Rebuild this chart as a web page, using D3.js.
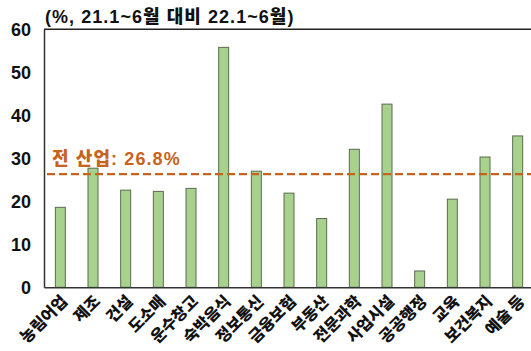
<!DOCTYPE html>
<html><head><meta charset="utf-8">
<script src="https://cdn.jsdelivr.net/npm/d3@7"></script>
<style>
body{margin:0;background:#fff;}
svg{display:block;font-family:"Liberation Sans","Noto Sans CJK KR",sans-serif;font-weight:bold;}
</style></head>
<body><svg id="c" width="531" height="351"></svg>
<script>
const categories = ["농림어업","제조","건설","도소매","운수창고","숙박음식","정보통신","금융보험","부동산","전문과학","사업시설","공공행정","교육","보건복지","예술 등"];
const values = [18.6,27.7,22.6,22.3,23.0,55.8,27.0,21.9,16.0,32.1,42.6,3.8,20.5,30.3,35.2];
const yTicks = [0,10,20,30,40,50,60];
const allIndustryLine = 26.3;
const allIndustryLabel = "전 산업: 26.8%";
const title = "(%, 21.1~6월 대비 22.1~6월)";

const svg = d3.select("#c");
const L = 44, R = 534, T = 29.3, B = 287.3;
const x = d3.scaleBand().domain(categories).range([L, R]);
const y = d3.scaleLinear().domain([0, 60]).range([B, T]);

svg.append("text").attr("x", 45).attr("y", 23).attr("font-size", 18)
  .attr("font-family", "Liberation Sans, Noto Sans CJK KR").attr("font-weight", 900)
  .attr("letter-spacing", 1.05).attr("fill", "#111").text(title);

svg.append("line").attr("x1", L).attr("x2", 531).attr("y1", y(60)).attr("y2", y(60)).attr("stroke", "#222").attr("stroke-width", 1.5);

svg.selectAll("rect.bar").data(values).join("rect")
  .attr("class", "bar")
  .attr("x", (d, i) => x(categories[i]) + x.bandwidth() / 2 - 5)
  .attr("width", 10)
  .attr("y", d => y(d))
  .attr("height", d => y(0) - y(d))
  .attr("fill", "#a9d18e")
  .attr("stroke", "#5b6b50")
  .attr("stroke-width", 1);

const yAxis = d3.axisLeft(y).tickValues(yTicks).tickSize(0).tickPadding(13);
const gy = svg.append("g").attr("transform", `translate(${L},0)`).call(yAxis);
gy.select(".domain").attr("stroke", "#333").attr("stroke-width", 1.5);
gy.selectAll("text").attr("font-size", 18).attr("font-family", "Liberation Sans").attr("font-weight", "bold").attr("fill", "#111");

const xAxis = d3.axisBottom(x).tickSize(0).tickPadding(0);
const gx = svg.append("g").attr("transform", `translate(0,${B})`).call(xAxis);
gx.select(".domain").attr("stroke", "#333").attr("stroke-width", 1.5);
gx.selectAll("text")
  .attr("font-size", 16).attr("font-family", "Noto Sans CJK KR").attr("font-weight", 900).attr("fill", "#111")
  .attr("text-anchor", "end")
  .attr("dy", null).attr("y", 0)
  .attr("transform", "translate(5,12) rotate(-45)")
  .attr("dominant-baseline", "middle");

svg.append("line").attr("x1", L + 3).attr("x2", 531)
  .attr("y1", y(allIndustryLine)).attr("y2", y(allIndustryLine))
  .attr("stroke", "#c8631c").attr("stroke-width", 2.2).attr("stroke-dasharray", "8,4");
svg.append("text").attr("x", 52).attr("y", 165).attr("font-size", 18)
  .attr("font-family", "Liberation Sans, Noto Sans CJK KR").attr("font-weight", 900)
  .attr("letter-spacing", 1.1).attr("fill", "#c8631c").text(allIndustryLabel);
</script></body></html>
